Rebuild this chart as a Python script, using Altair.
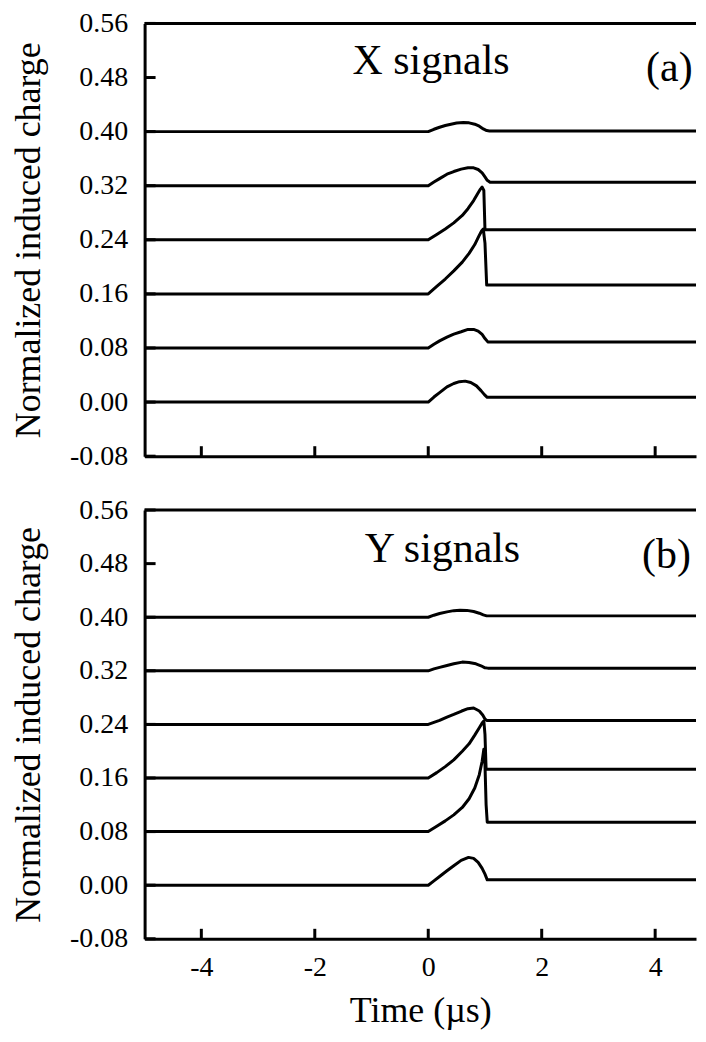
import altair as alt
import pandas as pd

FONT = "Liberation Serif"
X_DOMAIN = [-5, 4.72]
Y_DOMAIN = [-0.08, 0.56]
X_TICKS = [-4, -2, 0, 2, 4]
Y_TICKS = [-0.08, 0.0, 0.08, 0.16, 0.24, 0.32, 0.40, 0.48, 0.56]

# ---- Panel (a): X signals ----
A1_T = [-5, 0, 0.1, 0.2, 0.3, 0.4, 0.5, 0.62, 0.72, 0.82, 0.9, 0.97, 1.03, 1.08, 5]
A1_Q = [0.40, 0.40, 0.4035, 0.4065, 0.409, 0.411, 0.4127, 0.4135, 0.413, 0.411, 0.408, 0.404, 0.4015, 0.401, 0.401]
A2_T = [-5, 0, 0.1, 0.2, 0.33, 0.45, 0.58, 0.7, 0.8, 0.88, 0.95, 1.0, 1.04, 1.09, 5]
A2_Q = [0.32, 0.32, 0.3255, 0.3305, 0.337, 0.341, 0.3445, 0.3465, 0.3465, 0.344, 0.339, 0.333, 0.328, 0.325, 0.325]
A3_T = [-5, 0, 0.15, 0.3, 0.45, 0.6, 0.7, 0.8, 0.87, 0.92, 0.95, 0.98, 1.0, 5]
A3_Q = [0.24, 0.24, 0.248, 0.256, 0.265, 0.276, 0.286, 0.298, 0.308, 0.315, 0.318, 0.313, 0.255, 0.255]
A4_T = [-5, 0, 0.15, 0.3, 0.45, 0.6, 0.72, 0.82, 0.89, 0.94, 0.97, 1.0, 1.03, 5]
A4_Q = [0.16, 0.16, 0.171, 0.182, 0.194, 0.207, 0.22, 0.233, 0.245, 0.253, 0.256, 0.235, 0.173, 0.173]
A5_T = [-5, 0, 0.1, 0.2, 0.33, 0.45, 0.58, 0.7, 0.8, 0.88, 0.95, 1.0, 1.05, 5]
A5_Q = [0.08, 0.08, 0.0855, 0.0905, 0.096, 0.1005, 0.104, 0.1075, 0.1075, 0.105, 0.1, 0.094, 0.089, 0.089]
A6_T = [-5, 0, 0.1, 0.2, 0.33, 0.45, 0.55, 0.65, 0.75, 0.85, 0.93, 0.99, 1.04, 5]
A6_Q = [0.0, 0.0, 0.0075, 0.014, 0.0225, 0.0275, 0.0302, 0.031, 0.029, 0.024, 0.017, 0.011, 0.007, 0.007]

# ---- Panel (b): Y signals ----
B1_T = [-5, 0, 0.1, 0.2, 0.33, 0.45, 0.56, 0.68, 0.8, 0.9, 0.97, 1.03, 5]
B1_Q = [0.40, 0.40, 0.403, 0.4055, 0.408, 0.4098, 0.4105, 0.4102, 0.4085, 0.406, 0.4035, 0.402, 0.402]
B2_T = [-5, 0, 0.1, 0.2, 0.33, 0.45, 0.6, 0.72, 0.84, 0.93, 1.0, 1.05, 5]
B2_Q = [0.32, 0.32, 0.3228, 0.3252, 0.328, 0.3305, 0.333, 0.3325, 0.3305, 0.3275, 0.3245, 0.324, 0.324]
B3_T = [-5, 0, 0.1, 0.2, 0.33, 0.45, 0.59, 0.7, 0.8, 0.9, 0.96, 1.0, 1.03, 5]
B3_Q = [0.24, 0.24, 0.243, 0.246, 0.251, 0.255, 0.26, 0.2635, 0.2645, 0.26, 0.254, 0.248, 0.246, 0.246]
B4_T = [-5, 0, 0.15, 0.3, 0.45, 0.6, 0.72, 0.82, 0.9, 0.95, 0.98, 1.0, 1.02, 5]
B4_Q = [0.16, 0.16, 0.168, 0.177, 0.187, 0.2, 0.211, 0.224, 0.235, 0.242, 0.245, 0.225, 0.173, 0.173]
B5_T = [-5, 0, 0.15, 0.3, 0.45, 0.6, 0.72, 0.82, 0.9, 0.95, 0.98, 1.0, 1.02, 1.04, 5]
B5_Q = [0.08, 0.08, 0.088, 0.096, 0.105, 0.116, 0.129, 0.145, 0.165, 0.185, 0.203, 0.18, 0.12, 0.094, 0.094]
B6_T = [-5, 0, 0.1, 0.2, 0.33, 0.45, 0.58, 0.71, 0.8, 0.88, 0.95, 1.0, 1.04, 5]
B6_Q = [0.0, 0.0, 0.0065, 0.013, 0.0215, 0.029, 0.037, 0.0415, 0.04, 0.034, 0.025, 0.0165, 0.008, 0.008]

# panel annotations (text, t, q)
A_TEXT = ["X signals", "(a)"]
A_TEXT_T = [0.05, 4.25]
A_TEXT_Q = [0.485, 0.4745]
B_TEXT = ["Y signals", "(b)"]
B_TEXT_T = [0.25, 4.2]
B_TEXT_Q = [0.483, 0.473]


def curves_df(pairs):
    rows = []
    for k, (ts, qs) in enumerate(pairs):
        for i, (t, q) in enumerate(zip(ts, qs)):
            rows.append({"curve": k, "i": i, "t": t, "q": q})
    return pd.DataFrame(rows)


W = 553
STYLE = dict(labelFont=FONT, titleFont=FONT, labelFontSize=28, titleFontSize=36,
             labelColor="black", titleColor="black", titleFontWeight="normal",
             ticks=False, tickSize=0, grid=False, domain=True, domainWidth=3,
             domainColor="black")


def panel(pairs, texts, text_t, text_q, H, bottom):
    df = curves_df(pairs)
    x_axis_kw = dict(values=X_TICKS, labels=bottom, labelPadding=15, titlePadding=12,
                     labelExpr="datum.value < 0 ? '-' + format(-datum.value, 'd') : format(datum.value, 'd')",
                     **STYLE)
    x_title = "Time (µs)" if bottom else ""
    xenc = alt.X("t:Q", scale=alt.Scale(domain=X_DOMAIN, nice=False, zero=False),
                 axis=alt.Axis(**x_axis_kw), title=x_title)
    yenc = alt.Y("q:Q", scale=alt.Scale(domain=Y_DOMAIN, nice=False, zero=False),
                 axis=alt.Axis(values=Y_TICKS, labelPadding=17, titlePadding=22,
                               labelExpr="datum.value < 0 ? '-' + format(-datum.value, '.2f') : format(datum.value, '.2f')",
                               **STYLE),
                 title="Normalized induced charge")

    lines = alt.Chart(df).mark_line(color="black", strokeWidth=3, clip=True,
                                    strokeJoin="round", strokeCap="butt").encode(
        x=xenc, y=yenc, detail="curve:N", order="i:Q")

    xt = alt.Chart(pd.DataFrame({"t": X_TICKS})).mark_rule(color="black", strokeWidth=3).encode(
        x=xenc, y=alt.value(H - 10), y2=alt.value(H))
    yt = alt.Chart(pd.DataFrame({"q": Y_TICKS})).mark_rule(color="black", strokeWidth=3).encode(
        y=yenc, x=alt.value(0), x2=alt.value(11))
    top = alt.Chart(pd.DataFrame({"t": [0]})).mark_rule(color="black", strokeWidth=3).encode(
        x=alt.value(0), x2=alt.value(W), y=alt.value(0))
    tx = alt.Chart(pd.DataFrame({"label": texts, "t": text_t, "q": text_q})).mark_text(
        font=FONT, fontSize=42, color="black", align="center", baseline="alphabetic").encode(
        x=xenc, y=yenc, text="label:N")

    return alt.layer(lines, xt, yt, top, tx).properties(width=W, height=H)


pa = panel([(A1_T, A1_Q), (A2_T, A2_Q), (A3_T, A3_Q), (A4_T, A4_Q), (A5_T, A5_Q), (A6_T, A6_Q)],
           A_TEXT, A_TEXT_T, A_TEXT_Q, 434, False)
pb = panel([(B1_T, B1_Q), (B2_T, B2_Q), (B3_T, B3_Q), (B4_T, B4_Q), (B5_T, B5_Q), (B6_T, B6_Q)],
           B_TEXT, B_TEXT_T, B_TEXT_Q, 430, True)

chart = alt.vconcat(pa, pb, spacing=54, bounds="flush").properties(
    padding={"left": 2, "top": 0, "right": 0, "bottom": 0},
    background="white"
).configure_view(stroke=None)

chart.save("out.html", embed_options={"renderer": "svg", "actions": False})
